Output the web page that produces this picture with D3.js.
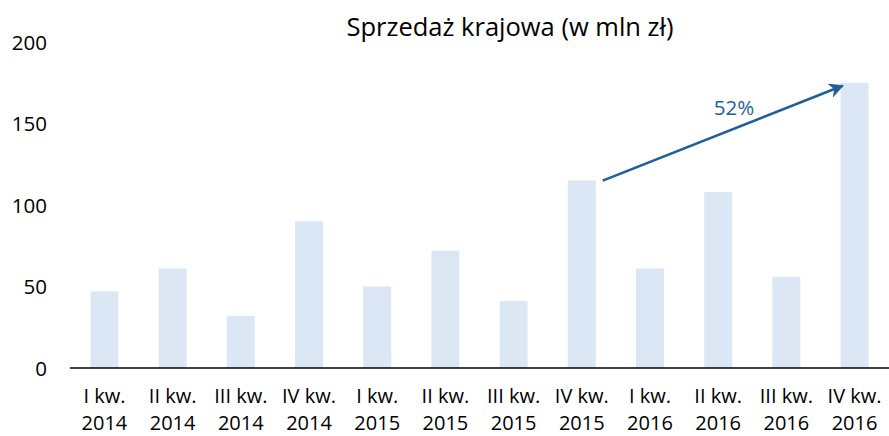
<!DOCTYPE html>
<html>
<head>
<meta charset="utf-8">
<script src="https://cdn.jsdelivr.net/npm/d3@7"></script>
<style>
  body { margin: 0; background: #fff; }
  text { font-family: "Open Sans", Lato, sans-serif; fill: #000; }
</style>
</head>
<body>
<div id="chart"></div>
<script>
// data
var quarters = ["I kw.", "II kw.", "III kw.", "IV kw.", "I kw.", "II kw.", "III kw.", "IV kw.", "I kw.", "II kw.", "III kw.", "IV kw."];
var years = ["2014", "2014", "2014", "2014", "2015", "2015", "2015", "2015", "2016", "2016", "2016", "2016"];
var sales = [47, 61, 32, 90, 50, 72, 41, 115, 61, 108, 56, 175];
var yTicks = [0, 50, 100, 150, 200];
var growthLabel = "52%";
var title = "Sprzedaż krajowa (w mln zł)";

var width = 889, height = 436;
var margin = {top: 42, right: 0, bottom: 68, left: 70};

var svg = d3.select("#chart")
  .append("svg")
    .attr("width", width)
    .attr("height", height);

var ids = d3.range(sales.length);

var x = d3.scaleBand()
  .domain(ids)
  .range([margin.left, width - margin.right])
  .paddingInner(0.59)
  .paddingOuter(0.3);

var y = d3.scaleLinear()
  .domain([0, 200])
  .range([height - margin.bottom, margin.top]);

// title
svg.append("text")
  .attr("x", 510)
  .attr("y", 36)
  .attr("text-anchor", "middle")
  .style("font-size", "25.5px")
  .text(title);

// bars
svg.selectAll(".bar")
  .data(ids)
  .enter().append("rect")
    .attr("class", "bar")
    .attr("x", function(i) { return x(i); })
    .attr("y", function(i) { return y(sales[i]); })
    .attr("width", x.bandwidth())
    .attr("height", function(i) { return y(0) - y(sales[i]); })
    .attr("fill", "#dbe7f5");

// y axis (labels only)
var yAxis = svg.append("g")
  .attr("transform", "translate(47,0)")
  .call(d3.axisLeft(y).tickValues(yTicks).tickSize(0).tickPadding(0));
yAxis.select(".domain").remove();
yAxis.selectAll("text")
  .style("font-size", "20.5px")
  .style("font-family", "'Open Sans', sans-serif")
  .attr("dy", "0.35em")
  .attr("fill", "#000");

// x axis baseline
svg.append("line")
  .attr("x1", margin.left)
  .attr("x2", width)
  .attr("y1", y(0))
  .attr("y2", y(0))
  .attr("stroke", "#000")
  .attr("stroke-width", 1.5);

// category labels (two lines)
var labels = svg.selectAll(".cat")
  .data(ids)
  .enter().append("text")
    .attr("class", "cat")
    .attr("text-anchor", "middle")
    .style("font-size", "20px");
labels.append("tspan")
  .attr("x", function(i) { return x(i) + x.bandwidth() / 2; })
  .attr("y", 402.5)
  .text(function(i) { return quarters[i]; });
labels.append("tspan")
  .attr("x", function(i) { return x(i) + x.bandwidth() / 2; })
  .attr("y", 430)
  .text(function(i) { return years[i]; });

// growth arrow from IV kw. 2015 to IV kw. 2016
var blue = "#1f5f99";
svg.append("defs").append("marker")
  .attr("id", "arrow")
  .attr("viewBox", "0 0 10 10")
  .attr("refX", 9)
  .attr("refY", 5)
  .attr("markerWidth", 6)
  .attr("markerHeight", 6)
  .attr("orient", "auto")
  .append("path")
    .attr("d", "M0,0 L10,5 L0,10 L3,5 Z")
    .attr("fill", blue);

var x1 = x(7) + x.bandwidth() + 7, y1 = y(sales[7]);
var x2 = x(11) + 2, y2 = y(sales[11]) + 3;
svg.append("line")
  .attr("x1", x1).attr("y1", y1)
  .attr("x2", x2).attr("y2", y2)
  .attr("stroke", blue)
  .attr("stroke-width", 2.5)
  .attr("marker-end", "url(#arrow)");

svg.append("text")
  .attr("x", 734)
  .attr("y", 115)
  .attr("text-anchor", "middle")
  .style("font-size", "20.5px")
  .style("fill", blue)
  .text(growthLabel);
</script>
</body>
</html>
